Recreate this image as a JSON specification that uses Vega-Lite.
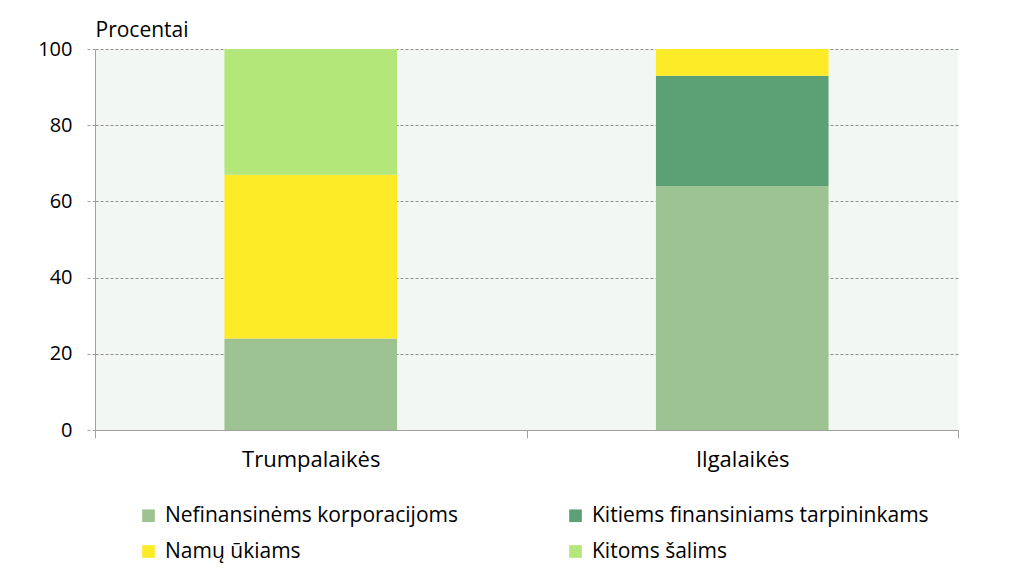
{
  "$schema": "https://vega.github.io/schema/vega-lite/v6.json",
  "width": 863,
  "height": 381,
  "autosize": {"type": "none"},
  "padding": {"left": 95, "top": 49, "right": 63, "bottom": 153},
  "background": "white",
  "config": {
    "font": "Open Sans",
    "view": {"fill": "#f2f7f3", "stroke": null}
  },
  "data": {
    "values": [
      {"term": "Trumpalaikės", "sector": "Nefinansinėms korporacijoms", "ord": 1, "value": 24},
      {"term": "Trumpalaikės", "sector": "Kitiems finansiniams tarpininkams", "ord": 2, "value": 0},
      {"term": "Trumpalaikės", "sector": "Namų ūkiams", "ord": 3, "value": 43},
      {"term": "Trumpalaikės", "sector": "Kitoms šalims", "ord": 4, "value": 33},
      {"term": "Ilgalaikės", "sector": "Nefinansinėms korporacijoms", "ord": 1, "value": 64},
      {"term": "Ilgalaikės", "sector": "Kitiems finansiniams tarpininkams", "ord": 2, "value": 29},
      {"term": "Ilgalaikės", "sector": "Namų ūkiams", "ord": 3, "value": 7},
      {"term": "Ilgalaikės", "sector": "Kitoms šalims", "ord": 4, "value": 0}
    ]
  },
  "mark": {"type": "bar", "width": {"band": 0.4}},
  "encoding": {
    "x": {
      "field": "term",
      "type": "nominal",
      "sort": ["Trumpalaikės", "Ilgalaikės"],
      "scale": {"paddingInner": 0, "paddingOuter": 0},
      "axis": {
        "title": null,
        "labelAngle": 0,
        "labelFontSize": 22,
        "labelColor": "#000000",
        "labelPadding": 11,
        "tickBand": "extent",
        "tickSize": 8,
        "tickColor": "#a0a0a0",
        "domainColor": "#a0a0a0",
        "grid": false
      }
    },
    "y": {
      "field": "value",
      "type": "quantitative",
      "stack": "zero",
      "scale": {"domain": [0, 100], "nice": false},
      "axis": {
        "values": [0, 20, 40, 60, 80, 100],
        "title": "Procentai",
        "titleAngle": 0,
        "titleAlign": "left",
        "titleBaseline": "alphabetic",
        "titleX": 0,
        "titleY": -13,
        "titleFontSize": 21,
        "titleFontWeight": "normal",
        "titleColor": "#000000",
        "labelFontSize": 20,
        "labelColor": "#000000",
        "labelPadding": 14,
        "tickSize": 9,
        "tickColor": "#a0a0a0",
        "domainColor": "#a0a0a0",
        "grid": true,
        "gridColor": "#909090",
        "gridDash": [3, 2],
        "tickDash": [3, 2]
      }
    },
    "color": {
      "field": "sector",
      "type": "nominal",
      "scale": {
        "domain": ["Nefinansinėms korporacijoms", "Namų ūkiams", "Kitiems finansiniams tarpininkams", "Kitoms šalims"],
        "range": ["#9dc392", "#fdeb27", "#5ba175", "#b3e77a"]
      },
      "legend": {
        "title": null,
        "orient": "none",
        "legendX": 43,
        "legendY": 456,
        "columns": 2,
        "columnPadding": 106,
        "rowPadding": 14,
        "symbolType": "square",
        "symbolSize": 160,
        "symbolStrokeWidth": 0,
        "labelFontSize": 21,
        "labelColor": "#000000",
        "labelOffset": 6,
        "labelLimit": 400
      }
    },
    "order": {"field": "ord", "type": "quantitative"}
  }
}
